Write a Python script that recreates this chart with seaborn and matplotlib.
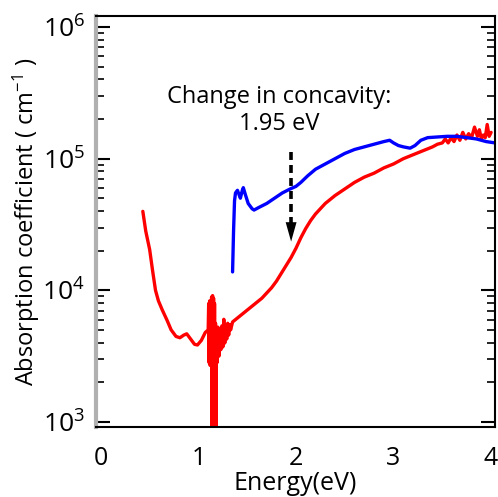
import numpy as np
import pandas as pd
import matplotlib
matplotlib.use("Agg")
import matplotlib.pyplot as plt
import seaborn as sns

# ---- data ----
red_energy = [0.43, 0.44, 0.46, 0.50, 0.53, 0.56, 0.59, 0.63, 0.68, 0.72, 0.77, 0.81,
              0.85, 0.88, 0.92, 0.96, 0.99, 1.03, 1.07, 1.10,
              1.105, 1.11, 1.115, 1.12, 1.125, 1.13, 1.135, 1.14, 1.145, 1.15, 1.155,
              1.16, 1.165, 1.17, 1.175, 1.18, 1.185, 1.19, 1.20, 1.21, 1.22, 1.23,
              1.24, 1.25, 1.26, 1.27, 1.28, 1.29, 1.30, 1.31, 1.32, 1.33,
              1.35, 1.40, 1.45, 1.50, 1.55, 1.60, 1.65, 1.70, 1.75, 1.80, 1.85,
              1.90, 1.95, 2.00, 2.05, 2.10, 2.15, 2.20, 2.25, 2.30, 2.40, 2.50,
              2.60, 2.70, 2.80, 2.90, 3.00, 3.10, 3.20, 3.30, 3.40, 3.45,
              3.50, 3.53, 3.56, 3.59, 3.62, 3.65, 3.68, 3.71, 3.74, 3.77, 3.80,
              3.83, 3.86, 3.88, 3.90, 3.92, 3.94, 3.96, 3.98, 4.00]
red_log_alpha = [4.60, 4.55, 4.45, 4.31, 4.15, 4.00, 3.92, 3.85, 3.77, 3.70, 3.65, 3.64,
                 3.66, 3.67, 3.63, 3.59, 3.585, 3.62, 3.68, 3.70,
                 3.90, 3.45, 3.92, 3.43, 3.88, 3.45, 3.95, 2.90, 3.96, 2.90, 3.94,
                 2.90, 3.90, 2.90, 3.75, 2.90, 3.70, 3.45, 3.72, 3.50, 3.70, 3.55,
                 3.73, 3.57, 3.78, 3.60, 3.72, 3.63, 3.75, 3.66, 3.74, 3.70,
                 3.76, 3.79, 3.82, 3.85, 3.88, 3.91, 3.94, 3.98, 4.02, 4.07, 4.13,
                 4.19, 4.25, 4.32, 4.40, 4.47, 4.53, 4.58, 4.62, 4.66, 4.72, 4.77,
                 4.82, 4.86, 4.89, 4.93, 4.96, 5.00, 5.03, 5.06, 5.09, 5.11,
                 5.12, 5.15, 5.12, 5.16, 5.13, 5.18, 5.14, 5.20, 5.15, 5.19, 5.16,
                 5.24, 5.17, 5.22, 5.15, 5.18, 5.16, 5.26, 5.17, 5.20]

blue_energy = [1.35, 1.36, 1.37, 1.38, 1.40, 1.42, 1.43, 1.45, 1.46, 1.48, 1.51, 1.55,
               1.57, 1.62, 1.70, 1.78, 1.86, 1.94, 2.00, 2.05, 2.12, 2.20, 2.30,
               2.40, 2.50, 2.60, 2.70, 2.80, 2.90, 2.96, 3.00, 3.05, 3.10, 3.17,
               3.22, 3.28, 3.35, 3.45, 3.55, 3.65, 3.75, 3.85, 3.95, 4.04]
blue_log_alpha = [4.14, 4.45, 4.68, 4.74, 4.76, 4.72, 4.70, 4.76, 4.78, 4.73, 4.66, 4.62,
                  4.61, 4.63, 4.66, 4.70, 4.74, 4.77, 4.79, 4.82, 4.87, 4.92, 4.96,
                  5.00, 5.04, 5.07, 5.09, 5.11, 5.13, 5.14, 5.12, 5.10, 5.09, 5.08,
                  5.10, 5.14, 5.16, 5.165, 5.17, 5.17, 5.16, 5.15, 5.13, 5.12]

annotation_text = "Change in concavity:\n1.95 eV"
concavity_energy = 1.95
x_ticks = [0, 1, 2, 3, 4]

red_alpha = 10 ** np.array(red_log_alpha)
blue_alpha = 10 ** np.array(blue_log_alpha)

df = pd.concat([
    pd.DataFrame({"energy": red_energy, "alpha": red_alpha, "sample": "red"}),
    pd.DataFrame({"energy": blue_energy, "alpha": blue_alpha, "sample": "blue"}),
], ignore_index=True)

sns.set_style("white")
plt.rcParams["font.family"] = ["Open Sans", "DejaVu Sans"]
plt.rcParams["mathtext.fontset"] = "custom"
plt.rcParams["mathtext.rm"] = "Open Sans"
plt.rcParams["mathtext.it"] = "Open Sans"
for key in ["text.color", "axes.labelcolor", "xtick.color", "ytick.color"]:
    plt.rcParams[key] = "black"

fig = plt.figure(figsize=(4.98, 4.97), dpi=100)
ax = fig.add_axes([96 / 498, 1 - 427 / 497, (495 - 96) / 498, (427 - 16) / 497])

sns.lineplot(data=df, x="energy", y="alpha", hue="sample",
             palette={"red": "#ff0000", "blue": "#0000ff"},
             sort=False, estimator=None, lw=2.4, legend=False, ax=ax)

ax.set_yscale("log")
ax.set_xlim(-0.05, 4.04)
ax.set_ylim(10 ** 2.962, 10 ** 6.084)
ax.set_xticks(x_ticks)
ax.set_xticklabels([str(t) for t in x_ticks])

# dashed arrow
ax.plot([concavity_energy, concavity_energy], [10 ** 5.05, 10 ** 4.50],
        color="black", lw=2.6, ls=(0, (2.2, 1.4)))
ax.annotate("", xy=(concavity_energy, 10 ** 4.37), xytext=(concavity_energy, 10 ** 4.53),
            arrowprops=dict(arrowstyle="-|>,head_width=0.28,head_length=1.0",
                            color="black", lw=0, mutation_scale=14, shrinkA=0, shrinkB=0))
ax.text(1.83, 10 ** 5.365, annotation_text, ha="center", va="center",
        fontsize=17, linespacing=1.15)

ax.set_xlabel("Energy(eV)", fontsize=18, labelpad=0)
ax.set_ylabel("Absorption coefficient ( cm$^{-1}$ )", fontsize=17, labelpad=0)

ax.tick_params(axis="x", which="major", direction="out", length=7, width=1.5,
               labelsize=18, pad=7, top=False)
ax.tick_params(axis="y", which="major", direction="in", length=10, width=1.5,
               labelsize=19, pad=8, left=True, right=True)
ax.tick_params(axis="y", which="minor", direction="in", length=6, width=1.2,
               left=True, right=True)
ax.tick_params(axis="x", which="minor", bottom=False, top=False)

for side in ["top", "right", "bottom"]:
    ax.spines[side].set_color("black")
    ax.spines[side].set_linewidth(1.5)
ax.spines["left"].set_color("#b0b0b0")
ax.spines["left"].set_linewidth(3)
ax.grid(False)

fig.savefig("out.png", dpi=100)
